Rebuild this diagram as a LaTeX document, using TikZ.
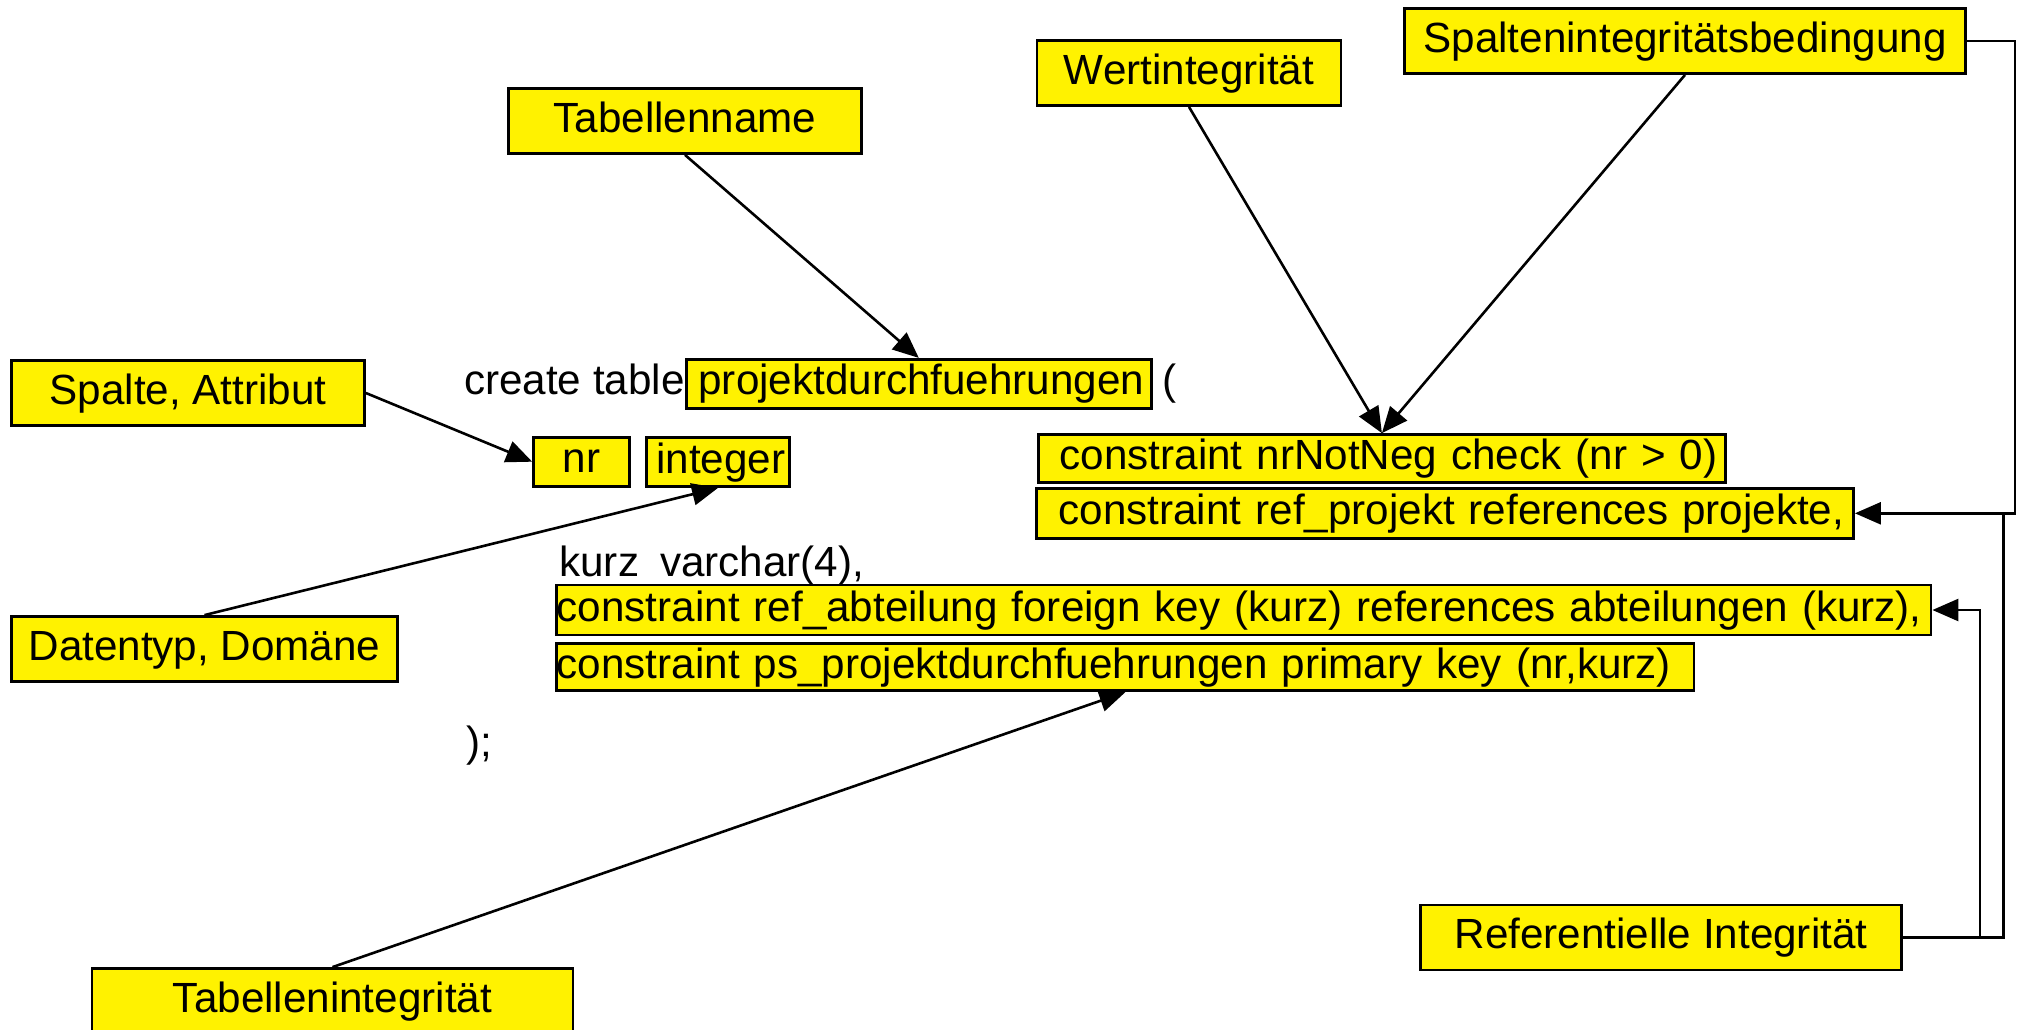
\documentclass[tikz,border=0pt]{standalone}
\usepackage{fontspec}
\setmainfont{Liberation Sans}
\usetikzlibrary{arrows.meta}

\tikzset{
  lbl/.style={draw, line width=1.4pt, fill=yellow, inner sep=0pt, minimum height=32.5pt, text height=15.5pt, text depth=4.5pt},
  codebox/.style={draw, line width=1.4pt, fill=yellow, inner xsep=0pt, inner ysep=0pt, text width=#1, align=left, minimum height=24.5pt, text height=15.5pt, text depth=4.5pt},
  plain/.style={inner sep=0pt},
  arr/.style={line width=1.3pt, -{Triangle[length=13pt,width=11pt]}},
  link/.style={line width=1.3pt}
}

\begin{document}
\begin{tikzpicture}[x=0.5pt,y=0.5pt,yscale=-1,font=\fontsize{21.1}{25}\selectfont]
\useasboundingbox (0,0) rectangle (2020,1029);

% Text Node
\node [lbl, minimum width=176.5pt] (tname) at (685,121) {Tabellenname};
% Text Node
\node [lbl, minimum width=152pt] (wert) at (1189,73) {Wertintegrität};
% Text Node
\node [lbl, minimum width=280.6pt] (spint) at (1685,41) {Spaltenintegritätsbedingung};
% Text Node
\node [lbl, minimum width=176.5pt] (spalte) at (188,393) {Spalte, Attribut};
% Text Node
\node [lbl, minimum width=193pt] (dtyp) at (204.5,649) {Datentyp, Domäne};
% Text Node
\node [lbl, minimum width=240.5pt] (tint) at (332.5,1001) {Tabellenintegrität};
% Text Node
\node [lbl, minimum width=240.5pt] (refint) at (1661,937.5) {Referentielle Integrität};

% Code lines
\node [codebox=232.3pt] (pname) at (918.8,383.8) {\hspace*{6pt}\mbox{projektdurchfuehrungen}};
\node [plain, anchor=base east] (create) at (pname.base west) {create table};
\node [plain, anchor=base west, xshift=4.6pt] (open) at (pname.base east) {(};
\node [codebox=48pt, align=center] (nr) at (581.6,461.7) {nr};
\node [codebox=71.6pt] (integ) at (718,462) {\hspace*{5pt}\mbox{integer}};
\node [codebox=343.2pt, minimum height=24pt] (check) at (1381.9,458.5) {\hspace*{10.5pt}\mbox{constraint nrNotNeg check (nr > 0)}};
\node [codebox=408.5pt, minimum height=25pt] (refproj) at (1445,513.3) {\hspace*{11pt}\mbox{constraint ref\_projekt references projekte,}};
\node [plain, anchor=base west] (kurz) at (559,576) {kurz\enspace varchar(4),};
\node [codebox=687.1pt, minimum height=25pt] (abt) at (1243.9,610) {\mbox{constraint ref\_abteilung foreign key (kurz) references abteilungen (kurz),}};
\node [codebox=568.6pt, minimum height=23.7pt] (ps) at (1125.4,667) {\mbox{constraint ps\_projektdurchfuehrungen primary key (nr,kurz)}};
\node [plain, anchor=base west] (close) at (466,756) {);};

%Straight Lines
\draw [arr] (tname.south) -- (pname.north);
\draw [arr] (wert.south) -- (check.north);
\draw [arr] (spint.south) -- (check.north);
\draw [arr] (spalte.east) -- (nr.west);
\draw [arr] (dtyp.north) -- (integ.south);
\draw [arr] (tint.north) -- (ps.south);

%Elbow Lines
\coordinate (joinR) at (2003.5,513.3);
\draw [arr] (spint.east) -- ++(48,0) |- (refproj.east);
\draw [link] (refint.east) -| (joinR);
\draw [arr] (refint.east) -- ++(77,0) |- (abt.east);

\end{tikzpicture}
\end{document}
